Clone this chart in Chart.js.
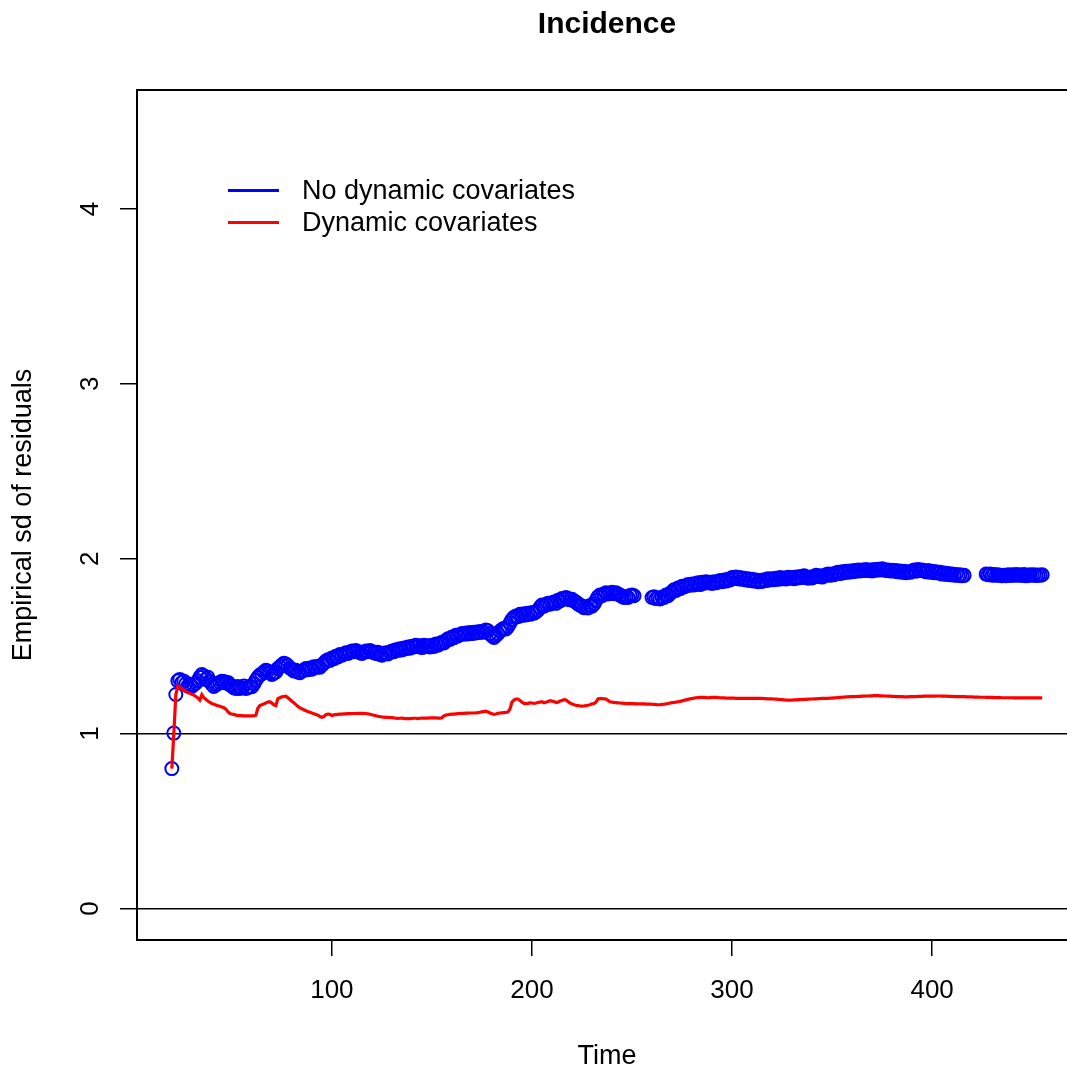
<!DOCTYPE html>
<html>
<head>
<meta charset="utf-8">
<script src="https://cdn.jsdelivr.net/npm/chart.js@4.4.1/dist/chart.umd.min.js"></script>
<style>
  html, body { margin: 0; padding: 0; background: #fff; overflow: hidden; }
  canvas { display: block; }
</style>
</head>
<body>
<canvas id="chart" width="1100" height="1073"></canvas>
<script>
// chart text
const chartTitle = 'Incidence';
const xTitle = 'Time';
const yTitle = 'Empirical sd of residuals';
const seriesLabels = ['No dynamic covariates', 'Dynamic covariates'];

// tick labels
const xTicks = [100, 200, 300, 400];
const yTicks = [0, 1, 2, 3, 4];

// one value per time step, starting at t = 20 (null = not drawn)
const firstTime = 20;

const noDynamic = [
  0.800,1.003,1.224,1.302,1.310,1.292,1.300,1.285,1.272,1.282,
  1.270,1.280,1.290,1.302,1.322,1.338,1.330,1.310,1.322,1.300,
  1.282,1.270,1.280,1.285,1.292,1.300,1.298,1.290,1.293,1.280,
  1.272,1.262,1.258,1.270,1.258,1.262,1.272,1.258,1.262,1.270,
  1.268,1.285,1.305,1.322,1.335,1.342,1.352,1.362,1.358,1.348,
  1.338,1.345,1.352,1.372,1.382,1.392,1.402,1.398,1.388,1.375,
  1.368,1.358,1.362,1.352,1.348,1.358,1.362,1.372,1.365,1.375,
  1.368,1.382,1.378,1.385,1.380,1.392,1.402,1.415,1.422,1.418,
  1.432,1.428,1.442,1.438,1.452,1.448,1.455,1.462,1.458,1.465,
  1.472,1.468,1.475,1.470,1.462,1.458,1.465,1.472,1.468,1.475,
  1.470,1.462,1.458,1.465,1.452,1.448,1.458,1.462,1.455,1.465,
  1.472,1.468,1.480,1.475,1.485,1.478,1.490,1.485,1.495,1.488,
  1.500,1.495,1.505,1.498,1.502,1.492,1.505,1.498,1.502,1.495,
  1.505,1.498,1.512,1.505,1.515,1.522,1.518,1.532,1.542,1.538,
  1.552,1.548,1.562,1.558,1.565,1.572,1.568,1.575,1.570,1.578,
  1.572,1.580,1.575,1.582,1.578,1.585,1.580,1.592,1.588,1.572,
  1.560,1.550,1.562,1.572,1.585,1.595,1.602,1.598,1.612,1.632,
  1.652,1.665,1.672,1.668,1.682,1.675,1.685,1.678,1.688,1.682,
  1.692,1.688,1.695,1.705,1.722,1.735,1.728,1.738,1.745,1.740,
  1.748,1.752,1.745,1.762,1.758,1.772,1.768,1.778,1.772,1.765,
  1.768,1.758,1.752,1.742,1.735,1.728,1.720,1.725,1.718,1.732,
  1.728,1.742,1.762,1.782,1.792,1.788,1.798,1.805,1.798,1.802,
  1.808,1.800,1.805,1.798,1.792,1.785,1.778,1.782,1.778,1.790,
  1.792,1.788,null,null,null,null,null,null,null,null,
  1.778,1.782,1.772,1.775,1.770,1.780,1.778,1.792,1.788,1.802,
  1.810,1.822,1.818,1.832,1.828,1.842,1.838,1.845,1.852,1.848,
  1.855,1.850,1.858,1.862,1.852,1.865,1.860,1.868,1.862,1.865,
  1.858,1.868,1.862,1.870,1.875,1.868,1.878,1.872,1.882,1.878,
  1.892,1.888,1.895,1.885,1.892,1.882,1.888,1.878,1.885,1.875,
  1.882,1.872,1.878,1.868,1.875,1.870,1.880,1.875,1.885,1.878,
  1.885,1.880,1.888,1.882,1.892,1.885,1.890,1.884,1.894,1.888,
  1.892,1.886,1.895,1.890,1.898,1.892,1.902,1.895,1.888,1.895,
  1.890,1.898,1.905,1.898,1.902,1.895,1.902,1.908,1.912,1.905,
  1.912,1.908,1.918,1.922,1.915,1.925,1.920,1.928,1.922,1.930,
  1.925,1.932,1.928,1.935,1.930,1.936,1.932,1.938,1.932,1.936,
  1.930,1.938,1.934,1.940,1.935,1.942,1.938,1.932,1.936,1.930,
  1.934,1.928,1.932,1.925,1.930,1.922,1.928,1.920,1.926,1.922,
  1.930,1.935,1.928,1.938,1.932,1.936,1.930,1.925,1.932,1.922,
  1.928,1.920,1.925,1.918,1.922,1.912,1.918,1.910,1.915,1.908,
  1.912,1.906,1.910,1.904,1.908,1.902,1.905,null,null,null,
  null,null,null,null,null,null,null,1.912,1.908,1.912,
  1.906,1.910,1.905,1.908,1.904,1.902,1.906,1.903,1.908,1.904,
  1.908,1.905,1.910,1.906,1.908,1.904,1.910,1.902,1.906,1.908,
  1.905,1.908,1.904,1.907,1.905,1.908
];

const dynamic = [
  0.800,1.000,1.222,1.272,1.262,1.258,1.250,1.242,1.235,1.230,
  1.225,1.220,1.212,1.204,1.192,1.222,1.205,1.196,1.186,1.178,
  1.172,1.168,1.164,1.160,1.156,1.152,1.148,1.140,1.125,1.115,
  1.112,1.110,1.106,1.104,1.103,1.103,1.102,1.102,1.101,1.101,
  1.101,1.102,1.105,1.145,1.160,1.165,1.170,1.175,1.180,1.182,
  1.175,1.165,1.160,1.200,1.205,1.210,1.212,1.214,1.205,1.195,
  1.185,1.176,1.166,1.156,1.147,1.142,1.136,1.131,1.126,1.122,
  1.118,1.114,1.110,1.105,1.098,1.094,1.098,1.108,1.112,1.110,
  1.104,1.107,1.109,1.110,1.111,1.112,1.113,1.113,1.114,1.114,
  1.115,1.115,1.115,1.116,1.116,1.116,1.116,1.115,1.113,1.111,
  1.108,1.105,1.102,1.099,1.097,1.095,1.094,1.093,1.093,1.092,
  1.091,1.090,1.088,1.087,1.088,1.089,1.087,1.086,1.086,1.086,
  1.087,1.088,1.088,1.086,1.088,1.089,1.089,1.089,1.089,1.090,
  1.090,1.090,1.090,1.089,1.089,1.091,1.102,1.106,1.108,1.110,
  1.111,1.112,1.113,1.114,1.115,1.116,1.116,1.117,1.117,1.118,
  1.118,1.118,1.119,1.120,1.122,1.124,1.126,1.128,1.124,1.118,
  1.114,1.110,1.112,1.116,1.118,1.119,1.120,1.121,1.124,1.140,
  1.180,1.192,1.198,1.198,1.190,1.180,1.173,1.172,1.173,1.176,
  1.175,1.173,1.175,1.178,1.180,1.182,1.176,1.180,1.184,1.188,
  1.186,1.184,1.178,1.180,1.186,1.190,1.194,1.192,1.184,1.175,
  1.170,1.165,1.162,1.160,1.158,1.157,1.158,1.160,1.162,1.165,
  1.170,1.172,1.180,1.198,1.200,1.200,1.199,1.198,1.190,1.182,
  1.180,1.178,1.177,1.176,1.175,1.174,1.173,1.172,1.172,1.171,
  1.171,1.171,1.170,1.170,1.170,1.170,1.170,1.169,1.169,1.169,
  1.168,1.167,1.166,1.165,1.165,1.167,1.168,1.170,1.172,1.175,
  1.177,1.178,1.180,1.182,1.184,1.187,1.190,1.193,1.196,1.199,
  1.201,1.203,1.205,1.206,1.207,1.207,1.207,1.206,1.205,1.206,
  1.207,1.208,1.207,1.206,1.205,1.204,1.204,1.203,1.203,1.203,
  1.203,1.203,1.202,1.202,1.202,1.201,1.201,1.201,1.202,1.202,
  1.202,1.202,1.201,1.201,1.201,1.201,1.200,1.200,1.199,1.199,
  1.199,1.198,1.197,1.196,1.195,1.194,1.193,1.192,1.192,1.192,
  1.192,1.193,1.193,1.194,1.194,1.195,1.196,1.196,1.197,1.198,
  1.198,1.199,1.199,1.200,1.200,1.201,1.201,1.202,1.202,1.203,
  1.203,1.204,1.205,1.206,1.207,1.208,1.209,1.210,1.210,1.211,
  1.211,1.212,1.212,1.213,1.213,1.214,1.214,1.215,1.215,1.216,
  1.216,1.217,1.217,1.217,1.216,1.216,1.215,1.215,1.214,1.214,
  1.213,1.213,1.212,1.212,1.211,1.211,1.210,1.210,1.210,1.211,
  1.211,1.212,1.212,1.213,1.213,1.213,1.214,1.214,1.214,1.214,
  1.214,1.214,1.215,1.215,1.215,1.214,1.214,1.214,1.213,1.213,
  1.213,1.212,1.212,1.212,1.211,1.211,1.211,1.210,1.210,1.210,
  1.210,1.209,1.209,1.209,1.208,1.208,1.208,1.207,1.207,1.207,
  1.207,1.206,1.206,1.206,1.206,1.205,1.205,1.205,1.205,1.205,
  1.205,1.204,1.204,1.204,1.204,1.204,1.204,1.204,1.204,1.204,
  1.204,1.204,1.204,1.204,1.204,1.204
];

const FONT_TICK = '26px "Liberation Sans", Arial, Helvetica, sans-serif';
const FONT_LAB = '27px "Liberation Sans", Arial, Helvetica, sans-serif';
const FONT_MAIN = 'bold 30px "Liberation Sans", Arial, Helvetica, sans-serif';

function toPoints(values) {
  const pts = [];
  values.forEach((v, i) => {
    if (v !== null) pts.push({ x: firstTime + i, y: v });
  });
  return pts;
}

// frame (top line), titles, tick labels and legend drawn R-style
const rStyle = {
  id: 'rStyle',
  afterDraw(chart) {
    const ctx = chart.ctx;
    const a = chart.chartArea;
    const xs = chart.scales.x;
    const ys = chart.scales.y;
    const midX = (a.left + a.right) / 2;

    ctx.save();
    ctx.strokeStyle = '#000';
    ctx.lineWidth = 2;
    ctx.beginPath();
    ctx.moveTo(a.left - 1, a.top);
    ctx.lineTo(a.right, a.top);
    ctx.stroke();

    ctx.fillStyle = '#000';
    ctx.textBaseline = 'alphabetic';
    ctx.textAlign = 'center';
    ctx.font = FONT_MAIN;
    ctx.fillText(chartTitle, midX, 33);

    ctx.font = FONT_TICK;
    xTicks.forEach(v => ctx.fillText(String(v), xs.getPixelForValue(v), 998));
    yTicks.forEach(v => {
      ctx.save();
      ctx.translate(98, ys.getPixelForValue(v));
      ctx.rotate(-Math.PI / 2);
      ctx.fillText(String(v), 0, 0);
      ctx.restore();
    });

    ctx.font = FONT_LAB;
    ctx.fillText(xTitle, midX, 1064);
    ctx.save();
    ctx.translate(31, (a.top + a.bottom) / 2);
    ctx.rotate(-Math.PI / 2);
    ctx.fillText(yTitle, 0, 0);
    ctx.restore();

    // legend
    ctx.textAlign = 'left';
    ctx.lineWidth = 3;
    chart.data.datasets.forEach((ds, i) => {
      const y = 190.5 + i * 32;
      ctx.strokeStyle = ds.borderColor;
      ctx.beginPath();
      ctx.moveTo(228, y);
      ctx.lineTo(279, y);
      ctx.stroke();
      ctx.fillText(ds.label, 302, y + 8.5);
    });
    ctx.restore();
  }
};

new Chart(document.getElementById('chart'), {
  type: 'scatter',
  data: {
    datasets: [
      {
        label: seriesLabels[0],
        data: toPoints(noDynamic),
        showLine: false,
        borderColor: '#0000ff',
        backgroundColor: 'rgba(0,0,0,0)',
        pointStyle: 'circle',
        pointRadius: 6.5,
        pointBorderWidth: 2,
        order: 1
      },
      {
        label: seriesLabels[1],
        data: toPoints(dynamic),
        showLine: true,
        borderColor: '#ff0000',
        borderWidth: 3.2,
        pointRadius: 0,
        tension: 0,
        order: 0
      }
    ]
  },
  options: {
    responsive: false,
    animation: false,
    devicePixelRatio: 1,
    layout: { padding: { left: 0, top: 90, right: 23, bottom: 0 } },
    plugins: {
      legend: { display: false },
      title: { display: false },
      tooltip: { enabled: false }
    },
    scales: {
      x: {
        type: 'linear',
        min: 2.6,
        max: 472.4,
        afterBuildTicks: s => { s.ticks = xTicks.map(v => ({ value: v })); },
        afterFit: s => { s.height = 133; },
        ticks: { display: false },
        grid: {
          drawOnChartArea: false,
          drawTicks: true,
          tickLength: 16,
          tickColor: '#000',
          lineWidth: 1.5
        },
        border: { display: true, color: '#000', width: 2 }
      },
      y: {
        type: 'linear',
        min: -0.18,
        max: 4.68,
        afterBuildTicks: s => { s.ticks = yTicks.map(v => ({ value: v })); },
        afterFit: s => { s.width = 137; },
        ticks: { display: false },
        grid: {
          drawOnChartArea: true,
          drawTicks: true,
          tickLength: 17,
          tickColor: '#000',
          lineWidth: 1.5,
          color: c => (c.tick && (c.tick.value === 0 || c.tick.value === 1)) ? '#000' : 'rgba(0,0,0,0)'
        },
        border: { display: true, color: '#000', width: 2 }
      }
    }
  },
  plugins: [rStyle]
});
</script>
</body>
</html>
